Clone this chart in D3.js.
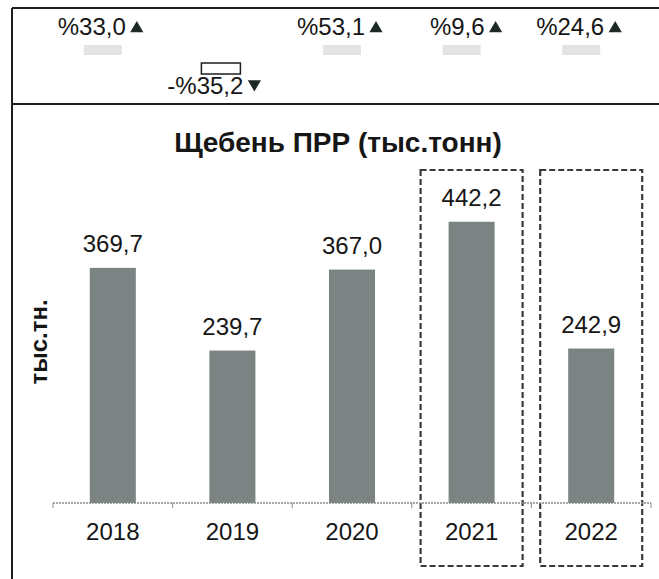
<!DOCTYPE html>
<html>
<head>
<meta charset="utf-8">
<script src="https://cdn.jsdelivr.net/npm/d3@7"></script>
<style>
  body { margin: 0; background: #fff; }
  text { font-family: "Liberation Sans", Arial, sans-serif; fill: #161616; }
</style>
</head>
<body>
<svg id="chart" width="659" height="579"></svg>
<script>
var years = ['2018', '2019', '2020', '2021', '2022'];
var values = [369.7, 239.7, 367.0, 442.2, 242.9];
var changeLabels = ['%33,0', '-%35,2', '%53,1', '%9,6', '%24,6'];
var changeUp = [true, false, true, true, true];
var highlightYears = ['2021', '2022'];
var titleText = 'Щебень ПРР (тыс.тонн)';
var yAxisText = 'тыс.тн.';

var svg = d3.select('#chart');
var W = 659, H = 579;
var baseY = 503;

var ru = d3.formatLocale({ decimal: ',', thousands: ' ', grouping: [3], currency: ['', ''] });
var fmt = ru.format('.1f');

var data = years.map(function(y, i) {
	return { year: y, value: values[i], change: changeLabels[i], up: changeUp[i] };
});

// frame
svg.append('rect').attr('width', W).attr('height', H).attr('fill', '#fff');
var frame = svg.append('g').attr('stroke', '#1e1e1e').attr('stroke-width', 2);
frame.append('line').attr('x1', 12).attr('x2', W).attr('y1', 8).attr('y2', 8);
frame.append('line').attr('x1', 12).attr('x2', 12).attr('y1', 8).attr('y2', H);
frame.append('line').attr('x1', 12).attr('x2', W).attr('y1', 104).attr('y2', 104);

var x = d3.scaleBand().domain(years).range([53, 651]).padding(0);
var y = d3.scaleLinear().domain([0, 500]).range([baseY, baseY - 318]);
var barW = x.bandwidth() * 0.385;
function cx(d) { return x(d) + x.bandwidth() / 2; }

// top row: change percentages
var topRow = svg.append('g');
var ups = data.filter(function(d) { return d.up; });
var downs = data.filter(function(d) { return !d.up; });
var tri = d3.symbol().type(d3.symbolTriangle).size(75);

topRow.selectAll('.blob').data(ups).enter().append('rect')
	.attr('x', function(d) { return cx(d.year) - 29; })
	.attr('y', 45).attr('width', 38).attr('height', 10)
	.attr('fill', '#d9d9d9').attr('opacity', 0.75);

topRow.selectAll('.up').data(ups).enter().append('text')
	.attr('x', function(d) { return cx(d.year) + 13; })
	.attr('y', 35)
	.attr('text-anchor', 'end')
	.style('font-size', '24px')
	.text(function(d) { return d.change; });
topRow.selectAll('.upTri').data(ups).enter().append('path')
	.attr('d', tri)
	.attr('transform', function(d) { return 'translate(' + (cx(d.year) + 24) + ',28.5)'; })
	.attr('fill', '#1d2a24');

topRow.selectAll('.box').data(downs).enter().append('rect')
	.attr('x', function(d) { return cx(d.year) - 31; })
	.attr('y', 63).attr('width', 39).attr('height', 11)
	.attr('fill', 'none').attr('stroke', '#1e1e1e').attr('stroke-width', 1.5);

topRow.selectAll('.down').data(downs).enter().append('text')
	.attr('x', function(d) { return cx(d.year) + 11; })
	.attr('y', 94)
	.attr('text-anchor', 'end')
	.style('font-size', '24px')
	.text(function(d) { return d.change; });
topRow.selectAll('.downTri').data(downs).enter().append('path')
	.attr('d', tri)
	.attr('transform', function(d) { return 'translate(' + (cx(d.year) + 22) + ',84) rotate(180)'; })
	.attr('fill', '#1d2a24');

// title
svg.append('text')
	.attr('x', 338).attr('y', 152)
	.attr('text-anchor', 'middle')
	.style('font-size', '28px').style('font-weight', 'bold')
	.text(titleText);

// y axis title
svg.append('text')
	.attr('transform', 'translate(47,342) rotate(-90)')
	.attr('text-anchor', 'middle')
	.style('font-size', '24px').style('font-weight', 'bold')
	.text(yAxisText);

// highlight boxes
svg.selectAll('.hl').data(highlightYears).enter().append('rect')
	.attr('x', function(d) { return cx(d) - 51; })
	.attr('y', 170)
	.attr('width', 102)
	.attr('height', 396)
	.attr('fill', 'none')
	.attr('stroke', '#3a3a3a')
	.attr('stroke-width', 2.2)
	.attr('stroke-dasharray', '6,3');

// bars
svg.selectAll('.bar').data(data).enter().append('rect')
	.attr('class', 'bar')
	.attr('x', function(d) { return cx(d.year) - barW / 2; })
	.attr('y', function(d) { return y(d.value); })
	.attr('width', barW)
	.attr('height', function(d) { return y(0) - y(d.value); })
	.attr('fill', '#7c8483');

// x axis line and ticks
var axis = svg.append('g').attr('stroke', '#8a8a8a');
axis.append('line').attr('x1', 53).attr('x2', 651).attr('y1', baseY).attr('y2', baseY)
	.attr('stroke-width', 1.5).attr('stroke-dasharray', '2,1');
axis.selectAll('.tick').data(years.concat(['end'])).enter().append('line')
	.attr('x1', function(d) { return d == 'end' ? x.range()[1] : x(d); })
	.attr('x2', function(d) { return d == 'end' ? x.range()[1] : x(d); })
	.attr('y1', baseY).attr('y2', baseY + 5);

svg.selectAll('.xl').data(years).enter().append('text')
	.attr('x', function(d) { return cx(d); })
	.attr('y', 540)
	.attr('text-anchor', 'middle')
	.style('font-size', '24px')
	.text(function(d) { return d; });

// value labels
svg.selectAll('.vl').data(data).enter().append('text')
	.attr('x', function(d) { return cx(d.year); })
	.attr('y', function(d) { return y(d.value) - 16; })
	.attr('text-anchor', 'middle')
	.style('font-size', '24px')
	.text(function(d) { return fmt(d.value); });
</script>
</body>
</html>
